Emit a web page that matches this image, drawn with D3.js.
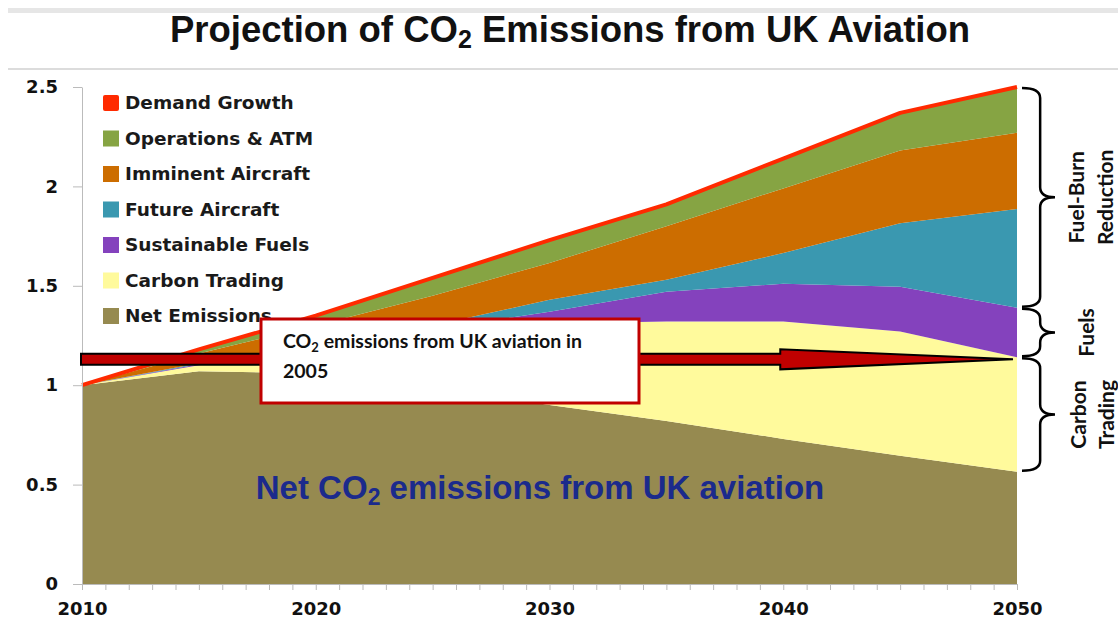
<!DOCTYPE html>
<html>
<head>
<meta charset="UTF-8">
<title>Projection of CO2 Emissions from UK Aviation</title>
<script src="https://cdn.jsdelivr.net/npm/d3@7"></script>
<style>
  body { margin: 0; background: #fff; }
  .axis path, .axis line { stroke: #bbb; }
  .axis text { font: bold 18px "DejaVu Sans", Verdana, sans-serif; fill: #111; }
  .legend text { font: bold 18.5px "DejaVu Sans", Verdana, sans-serif; fill: #1a1a1a; }
  .brace-label { font: bold 21px Lato, sans-serif; fill: #111; }
</style>
</head>
<body>
<script>
// values (layer thickness per year)
var years = [2010, 2015, 2020, 2025, 2030, 2035, 2040, 2045, 2050];
var netEmissions     = [1.00, 1.07, 1.06, 0.99, 0.90, 0.82, 0.73, 0.645, 0.565];
var carbonTrading    = [0, 0.03, 0.11, 0.26, 0.41, 0.50, 0.59, 0.625, 0.575];
var sustainableFuels = [0, 0.005, 0.02, 0.03, 0.06, 0.15, 0.19, 0.225, 0.25];
var futureAircraft   = [0, 0.005, 0.02, 0.02, 0.06, 0.06, 0.155, 0.32, 0.496];
var imminentAircraft = [0, 0.05, 0.09, 0.15, 0.185, 0.27, 0.325, 0.365, 0.384];
var operationsATM    = [0, 0.02, 0.05, 0.09, 0.115, 0.11, 0.15, 0.19, 0.23];
var level2005 = 1.13;

var yTicks = [0, 0.5, 1, 1.5, 2, 2.5];
var xLabels = [2010, 2020, 2030, 2040, 2050];

var keys = ["net", "carbon", "fuels", "future", "imminent", "ops"];
var colors = {
  net: "#968a50", carbon: "#fffa9c", fuels: "#8442bd",
  future: "#3a98b0", imminent: "#cc6d00", ops: "#86a443"
};
var legendItems = [
  ["Demand Growth", "#ff2a00"],
  ["Operations & ATM", colors.ops],
  ["Imminent Aircraft", colors.imminent],
  ["Future Aircraft", colors.future],
  ["Sustainable Fuels", colors.fuels],
  ["Carbon Trading", colors.carbon],
  ["Net Emissions", colors.net]
];

var table = years.map(function (yr, i) {
  return {
    year: yr, net: netEmissions[i], carbon: carbonTrading[i], fuels: sustainableFuels[i],
    future: futureAircraft[i], imminent: imminentAircraft[i], ops: operationsATM[i]
  };
});

var W = 1118, H = 621;
var plotLeft = 82, plotRight = 1017, plotTop = 87, plotBottom = 584;

var svg = d3.select("body").append("svg")
    .attr("width", W)
    .attr("height", H);

// slide decoration lines
svg.append("rect").attr("x", 8).attr("y", 8).attr("width", W - 8).attr("height", 5).attr("fill", "#e6e6e6");
svg.append("line").attr("x1", 8).attr("x2", W).attr("y1", 69).attr("y2", 69)
    .attr("stroke", "#dcdcdc").attr("stroke-width", 2);

var x = d3.scaleLinear().domain([2010, 2050]).range([plotLeft, plotRight]);
var y = d3.scaleLinear().domain([0, 2.5]).range([plotBottom, plotTop]);

var series = d3.stack().keys(keys)(table);

var area = d3.area()
    .x(function (d) { return x(d.data.year); })
    .y0(function (d) { return y(d[0]); })
    .y1(function (d) { return y(d[1]); });

svg.append("g").selectAll("path")
    .data(series)
    .enter().append("path")
    .attr("fill", function (d) { return colors[d.key]; })
    .attr("d", area);

// demand growth outline
var topLine = d3.line()
    .x(function (d) { return x(d.data.year); })
    .y(function (d) { return y(d[1]); });
svg.append("path")
    .datum(series[series.length - 1])
    .attr("fill", "none")
    .attr("stroke", "#ff2a00")
    .attr("stroke-width", 4)
    .attr("stroke-linejoin", "round")
    .attr("d", topLine);

// axes
var yAxis = d3.axisLeft(y).tickValues(yTicks).tickSize(9).tickSizeOuter(0).tickPadding(15)
    .tickFormat(d3.format(""));
svg.append("g").attr("class", "axis")
    .attr("transform", "translate(" + plotLeft + ",0)")
    .call(yAxis);

var xAxis = d3.axisBottom(x).tickValues(d3.range(2010, 2051)).tickSize(6).tickSizeOuter(0).tickPadding(12)
    .tickFormat(function (d) { return xLabels.indexOf(d) >= 0 ? d : ""; });
svg.append("g").attr("class", "axis")
    .attr("transform", "translate(0," + plotBottom + ")")
    .call(xAxis);

// legend
var legend = svg.append("g").attr("class", "legend");
legendItems.forEach(function (item, i) {
  var cy = 103 + i * 35.5;
  legend.append("rect")
      .attr("x", 103).attr("y", cy - 8).attr("width", 16).attr("height", 16)
      .attr("rx", i === 0 ? 2 : 0)
      .attr("fill", item[1]);
  legend.append("text")
      .attr("x", 125).attr("y", cy + 6)
      .text(item[0]);
});

// 2005 level arrow
var ay = y(level2005), headX = x(2040) - 3, tipX = x(2050) - 4;
svg.append("path")
    .attr("d", "M" + (plotLeft - 1) + "," + (ay - 5.5) + "H" + headX + "V" + (ay - 10) +
        "L" + tipX + "," + ay + "L" + headX + "," + (ay + 10) + "V" + (ay + 5.5) + "H" + (plotLeft - 1) + "Z")
    .attr("fill", "#c00000")
    .attr("stroke", "#000")
    .attr("stroke-width", 2);

// callout box
svg.append("rect")
    .attr("x", 261).attr("y", 319).attr("width", 378).attr("height", 84)
    .attr("fill", "#fff").attr("stroke", "#c00000").attr("stroke-width", 3);
var box = svg.append("text")
    .attr("x", 283).attr("y", 348)
    .style("font", "bold 19.5px Lato, sans-serif").attr("fill", "#111");
box.append("tspan").text("CO");
box.append("tspan").attr("font-size", 13).attr("dy", 4).text("2");
box.append("tspan").attr("dy", -4).text(" emissions from UK aviation in");
svg.append("text")
    .attr("x", 283).attr("y", 378)
    .style("font", "bold 19.5px Lato, sans-serif").attr("fill", "#111")
    .text("2005");

// net emissions label
var net = svg.append("text")
    .attr("x", 540).attr("y", 499).attr("text-anchor", "middle")
    .style("font", "bold 33px 'Liberation Sans', Arial, sans-serif").attr("fill", "#1b2a8c");
net.append("tspan").text("Net CO");
net.append("tspan").attr("font-size", 23).attr("dy", 6).text("2");
net.append("tspan").attr("dy", -6).text(" emissions from UK aviation");

// title
var title = svg.append("text")
    .attr("x", 570).attr("y", 42).attr("text-anchor", "middle")
    .style("font", "bold 36.5px 'Liberation Sans', Arial, sans-serif").attr("fill", "#111");
title.append("tspan").text("Projection of CO");
title.append("tspan").attr("font-size", 25).attr("dy", 6).text("2");
title.append("tspan").attr("dy", -6).text(" Emissions from UK Aviation");

// braces on the right, bounded by the 2050 layer values
function bracePath(x0, y1, y2, w) {
  var ym = (y1 + y2) / 2, xm = x0 + w * 0.55, q = Math.min(10, (y2 - y1) / 4);
  return "M" + x0 + "," + y1 +
      "Q" + xm + "," + y1 + " " + xm + "," + (y1 + q) +
      "L" + xm + "," + (ym - q) +
      "Q" + xm + "," + ym + " " + (x0 + w) + "," + ym +
      "Q" + xm + "," + ym + " " + xm + "," + (ym + q) +
      "L" + xm + "," + (y2 - q) +
      "Q" + xm + "," + y2 + " " + x0 + "," + y2;
}
var last = years.length - 1;
var bTop = series[5][last][1], bFuels = series[2][last][1], bCarbon = series[1][last][1], bNet = series[0][last][1];
var braces = [
  [bTop, bFuels, ["Fuel-Burn", "Reduction"], [1084, 1113]],
  [bFuels, bCarbon, ["Fuels"], [1094]],
  [bCarbon, bNet, ["Carbon", "Trading"], [1086, 1114]]
];
braces.forEach(function (b) {
  var y1 = y(b[0]) + 1, y2 = y(b[1]) - 1;
  svg.append("path")
      .attr("d", bracePath(1022, y1, y2, 33))
      .attr("fill", "none").attr("stroke", "#000").attr("stroke-width", 2.5);
  var cy = (y1 + y2) / 2;
  b[2].forEach(function (t, j) {
    svg.append("text")
        .attr("class", "brace-label")
        .attr("transform", "translate(" + b[3][j] + "," + cy + ") rotate(-90)")
        .attr("text-anchor", "middle")
        .text(t);
  });
});
</script>
</body>
</html>
